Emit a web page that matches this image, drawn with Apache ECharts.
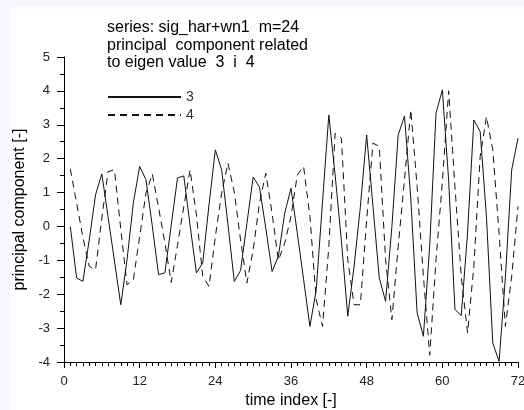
<!DOCTYPE html>
<html>
<head>
<meta charset="utf-8">
<script src="https://cdn.jsdelivr.net/npm/echarts@6/dist/echarts.min.js"></script>
<style>
html,body{margin:0;padding:0;width:524px;height:410px;background:#f7f7fd;overflow:hidden;}
#c{position:absolute;left:10px;top:7px;width:514px;height:403px;background:#fff;}
</style>
</head>
<body>
<div id="c"></div>
<script>
// time index (1..72)
const timeIndex = [1,2,3,4,5,6,7,8,9,10,11,12,13,14,15,16,17,18,19,20,21,22,23,24,25,26,27,28,29,30,31,32,33,34,35,36,37,38,39,40,41,42,43,44,45,46,47,48,49,50,51,52,53,54,55,56,57,58,59,60,61,62,63,64,65,66,67,68,69,70,71,72];
// principal component related to eigen value 3 (solid)
const pc3 = [0.0,-1.52,-1.62,-0.4,0.93,1.55,0.27,-1.02,-2.31,-0.98,0.7,1.77,1.38,0.02,-1.42,-1.37,0.03,1.43,1.49,0.02,-1.37,-1.08,0.64,2.26,1.67,0.07,-1.62,-1.30,0.08,1.46,1.16,-0.05,-1.33,-0.88,0.39,1.13,-0.2,-1.57,-2.95,-1.87,0.73,3.29,1.52,-0.44,-2.65,-1.18,0.58,2.70,0.59,-1.52,-2.21,-0.01,2.70,3.26,0.82,-2.55,-3.24,-0.57,3.34,4.03,1.37,-2.45,-2.63,-0.19,3.14,2.80,0.28,-3.44,-3.98,-1.51,1.67,2.60];
// principal component related to eigen value 4 (dashed)
const pc4 = [1.70,0.69,-0.32,-1.18,-1.28,0.25,1.62,1.67,-0.07,-1.72,-1.57,-0.3,0.98,1.55,0.55,-0.48,-1.65,-0.56,0.59,1.67,0.34,-1.47,-1.77,-0.3,0.98,1.87,1.02,-0.39,-1.67,-0.69,0.69,1.57,0.39,-1.0,-0.5,0.3,1.52,1.77,0.29,-2.16,-2.95,-0.59,2.75,2.6,-0.98,-2.31,-2.31,0.2,2.46,2.36,-0.98,-2.75,-0.59,1.38,3.44,1.18,-1.47,-3.8,-0.98,1.3,4.0,1.18,-1.47,-3.14,-1.18,2.06,3.24,2.26,-0.2,-2.95,-1.47,0.59];
const titleLines = ['series: sig_har+wn1  m=24','principal  component related','to eigen value  3  i  4'];
const seriesNames = ['3','4'];

const FONT = '"Liberation Sans", Arial, sans-serif';
const chart = echarts.init(document.getElementById('c'), null, {renderer:'canvas'});
chart.setOption({
  animation:false,
  backgroundColor:'#fff',
  title:{
    text:titleLines.join('\n'),
    left:97, top:12, padding:0,
    textStyle:{fontFamily:FONT,fontSize:16,fontWeight:'normal',color:'#000',lineHeight:17.5}
  },
  legend:{
    orient:'vertical', left:97, top:83, padding:0,
    itemWidth:73, itemHeight:12, itemGap:4,
    itemStyle:{opacity:0},
    textStyle:{fontFamily:FONT,fontSize:14,color:'#333'},
    data:seriesNames
  },
  grid:{left:54, right:6, top:50, bottom:48, containLabel:false, outerBoundsMode:'none'},
  xAxis:{
    type:'value', min:0, max:72, interval:12,
    name:'time index [-]', nameLocation:'middle', nameGap:31,
    nameTextStyle:{fontFamily:FONT,fontSize:16,color:'#000'},
    axisLine:{show:true,onZero:false,lineStyle:{color:'#000',width:1}},
    axisTick:{show:true,length:6,inside:false,lineStyle:{color:'#000'}},
    minorTick:{show:true,splitNumber:12,length:4,lineStyle:{color:'#000'}},
    axisLabel:{fontFamily:FONT,fontSize:13,color:'#222',margin:13,hideOverlap:false},
    splitLine:{show:false}
  },
  yAxis:{
    type:'value', min:-4, max:5, interval:1,
    name:'principal component [-]', nameLocation:'middle', nameGap:31, nameRotate:90,
    nameTextStyle:{fontFamily:FONT,fontSize:16,color:'#000'},
    axisLine:{show:true,onZero:false,lineStyle:{color:'#000',width:1}},
    axisTick:{show:true,length:7,lineStyle:{color:'#000'}},
    minorTick:{show:true,splitNumber:2,length:4,lineStyle:{color:'#000'}},
    axisLabel:{fontFamily:FONT,fontSize:13,color:'#222',margin:14},
    splitLine:{show:false}
  },
  series:[
    {name:seriesNames[0], type:'line', symbol:'none', showSymbol:false,
     data:timeIndex.map((t,i)=>[t,pc3[i]]),
     lineStyle:{color:'#111',width:1,type:'solid'}, itemStyle:{color:'#111'}},
    {name:seriesNames[1], type:'line', symbol:'none', showSymbol:false,
     data:timeIndex.map((t,i)=>[t,pc4[i]]),
     lineStyle:{color:'#111',width:1,type:[7,5]}, itemStyle:{color:'#111'}}
  ]
});
</script>
</body>
</html>
